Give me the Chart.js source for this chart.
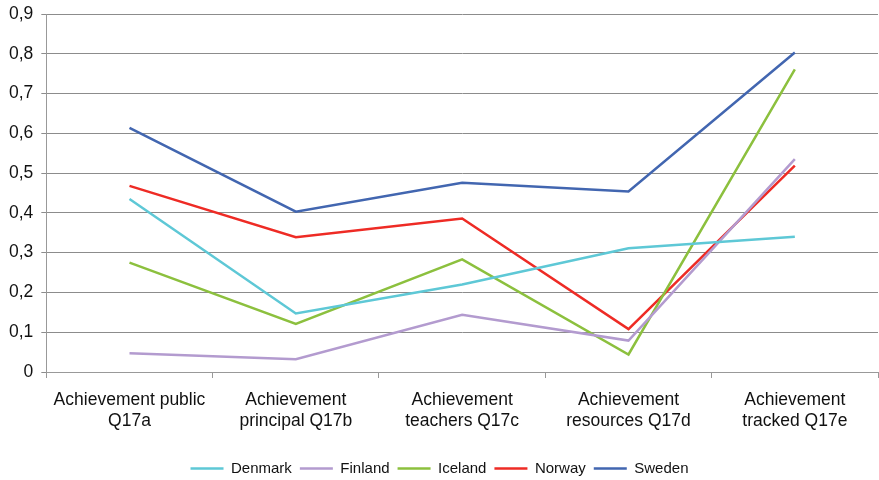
<!DOCTYPE html>
<html>
<head>
<meta charset="utf-8">
<script src="https://cdn.jsdelivr.net/npm/chart.js@4/dist/chart.umd.min.js"></script>
<style>
  html, body { margin: 0; padding: 0; background: #fff; }
  #wrap { width: 879px; height: 480px; }
</style>
</head>
<body>
<div id="wrap"><canvas id="chart"></canvas></div>
<script>
const categories = [
  ["Achievement public", "Q17a"],
  ["Achievement", "principal Q17b"],
  ["Achievement", "teachers Q17c"],
  ["Achievement", "resources Q17d"],
  ["Achievement", "tracked Q17e"]
];

const denmark = [0.435, 0.147, 0.220, 0.311, 0.340];
const finland = [0.047, 0.032, 0.144, 0.079, 0.535];
const iceland = [0.275, 0.121, 0.283, 0.044, 0.761];
const norway  = [0.468, 0.339, 0.386, 0.108, 0.519];
const sweden  = [0.614, 0.403, 0.476, 0.454, 0.803];

const seriesNames = ["Denmark", "Finland", "Iceland", "Norway", "Sweden"];
const seriesData = [denmark, finland, iceland, norway, sweden];
const seriesColors = ["#5ec8d6", "#b39bcf", "#8cc03e", "#ee2b25", "#4266b0"];

const datasets = seriesNames.map((name, i) => ({
  label: name,
  data: seriesData[i],
  borderColor: seriesColors[i],
  backgroundColor: seriesColors[i],
  borderWidth: 2.5,
  pointRadius: 0,
  pointHoverRadius: 0,
  tension: 0,
  fill: false
}));

const font = { family: 'Liberation Sans, Arial, sans-serif', size: 17.5 };

const ctx = document.getElementById('chart').getContext('2d');
new Chart(ctx, {
  type: 'line',
  data: { labels: categories, datasets: datasets },
  options: {
    responsive: true,
    maintainAspectRatio: false,
    animation: false,
    layout: { padding: { left: 1, right: 1, top: 14, bottom: -6 } },
    plugins: {
      tooltip: { enabled: false },
      legend: {
        position: 'bottom',
        labels: {
          usePointStyle: true,
          pointStyle: 'line',
          pointStyleWidth: 33,
          padding: 8,
          color: '#111',
          font: { family: 'Liberation Sans, Arial, sans-serif', size: 15 }
        }
      }
    },
    scales: {
      x: {
        offset: true,
        grid: {
          offset: true,
          drawOnChartArea: false,
          drawTicks: true,
          tickLength: 6,
          color: '#999'
        },
        border: { display: true, color: '#999' },
        ticks: {
          maxRotation: 0,
          autoSkip: false,
          padding: 12,
          color: '#111',
          font: font
        },
        // leave room between the category labels and the legend
        afterFit: scale => { scale.height += 9; }
      },
      y: {
        min: 0,
        max: 0.9,
        grid: { color: '#8c8c8c', tickLength: 5 },
        border: { display: true, color: '#999' },
        ticks: {
          stepSize: 0.1,
          padding: 8,
          color: '#111',
          font: font,
          callback: v => v === 0 ? '0' : v.toFixed(1).replace('.', ',')
        },
        // top label may overhang; the layout padding handles it
        afterFit: scale => { scale.paddingTop = 0; }
      }
    }
  }
});
</script>
</body>
</html>
